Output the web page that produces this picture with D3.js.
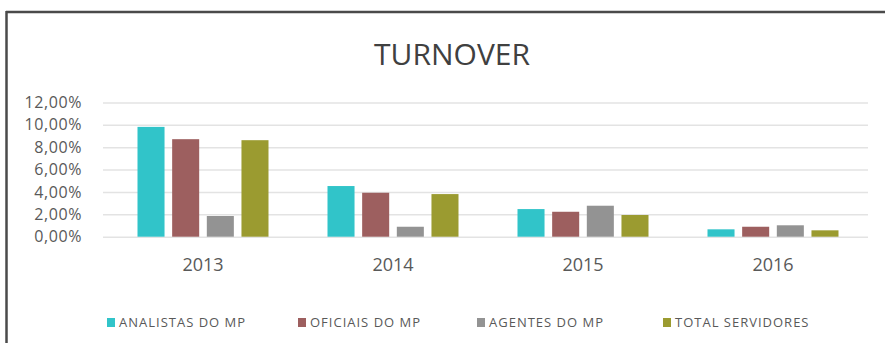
<!DOCTYPE html>
<html>
<head>
<meta charset="utf-8">
<script src="https://cdn.jsdelivr.net/npm/d3@7"></script>
<style>
  body { margin: 0; background: #fff; }
  text { font-family: "Open Sans", "Liberation Sans", sans-serif; fill: #595959; }
</style>
</head>
<body>
<svg id="chart" width="885" height="343"></svg>
<script>
// turnover per year, in percent
const years = ['2013', '2014', '2015', '2016'];
const seriesNames = ['ANALISTAS DO MP', 'OFICIAIS DO MP', 'AGENTES DO MP', 'TOTAL SERVIDORES'];
const analistas = [9.82, 4.53, 2.47, 0.66];
const oficiais = [8.72, 3.93, 2.23, 0.89];
const agentes = [1.85, 0.89, 2.77, 1.02];
const totalServidores = [8.63, 3.81, 1.94, 0.57];
const yTicks = [0, 2, 4, 6, 8, 10, 12];
const seriesColors = ['#31c4c9', '#9d5f5f', '#939393', '#9b9b30'];

const seriesValues = [analistas, oficiais, agentes, totalServidores];

const svg = d3.select('#chart');

// frame: only the top and left edges show in the picture
svg.append('line').attr('x1', 6).attr('x2', 885).attr('y1', 12).attr('y2', 12)
    .attr('stroke', '#4a4a4a').attr('stroke-width', 2.5);
svg.append('line').attr('x1', 6.5).attr('x2', 6.5).attr('y1', 11).attr('y2', 343)
    .attr('stroke', '#4a4a4a').attr('stroke-width', 2.5);

svg.append('text')
    .attr('x', 452).attr('y', 65)
    .attr('text-anchor', 'middle')
    .style('font-size', '30px')
    .style('fill', '#404040')
    .text('TURNOVER');

const x0 = d3.scaleBand().domain(years).range([108, 868]);
const x1 = d3.scaleBand().domain(seriesNames)
    .range([-65.5, 65.5]).paddingInner(0.22);
const y = d3.scaleLinear().domain([0, 12]).range([236.7, 102.5]);

// gridlines + y labels through an axis
const yAxis = svg.append('g')
    .attr('transform', 'translate(103,0)')
    .call(d3.axisLeft(y).tickValues(yTicks)
        .tickSize(-(868 - 103))
        .tickFormat(d => d3.format('.2f')(d).replace('.', ',') + '%'));
yAxis.select('.domain').remove();
yAxis.selectAll('.tick line').attr('stroke', '#e3e3e3').attr('stroke-width', 1.5);
yAxis.selectAll('.tick text')
    .attr('x', -21)
    .style('font-size', '16px')
    .style('letter-spacing', '0.6px')
    .style('font-family', '"Open Sans", sans-serif')
    .style('fill', '#595959');

// bars
const groups = svg.append('g').selectAll('g')
    .data(years)
    .join('g')
    .attr('transform', d => `translate(${x0(d) + x0.bandwidth() / 2},0)`);

groups.selectAll('rect')
    .data((d, i) => seriesNames.map((s, k) => ({ series: s, k, value: seriesValues[k][i] })))
    .join('rect')
    .attr('x', d => x1(d.series))
    .attr('width', x1.bandwidth())
    .attr('y', d => y(d.value))
    .attr('height', d => y(0) - y(d.value))
    .attr('fill', d => seriesColors[d.k]);

// year labels
const xAxis = svg.append('g')
    .attr('transform', 'translate(0,236.7)')
    .call(d3.axisBottom(x0).tickSize(0).tickPadding(22));
xAxis.select('.domain').remove();
xAxis.selectAll('.tick text')
    .style('font-size', '18px')
    .style('font-family', '"Open Sans", sans-serif')
    .style('fill', '#595959');

// legend
const legendX = [107, 298, 477, 663];
const legend = svg.append('g').selectAll('g')
    .data(seriesNames)
    .join('g')
    .attr('transform', (d, i) => `translate(${legendX[i]},318)`);
legend.append('rect')
    .attr('width', 8).attr('height', 9)
    .attr('fill', (d, i) => seriesColors[i]);
legend.append('text')
    .attr('x', 12).attr('y', 9)
    .style('font-size', '13px')
    .style('letter-spacing', '1px')
    .style('font-family', '"Open Sans", sans-serif')
    .text(d => d);
</script>
</body>
</html>
